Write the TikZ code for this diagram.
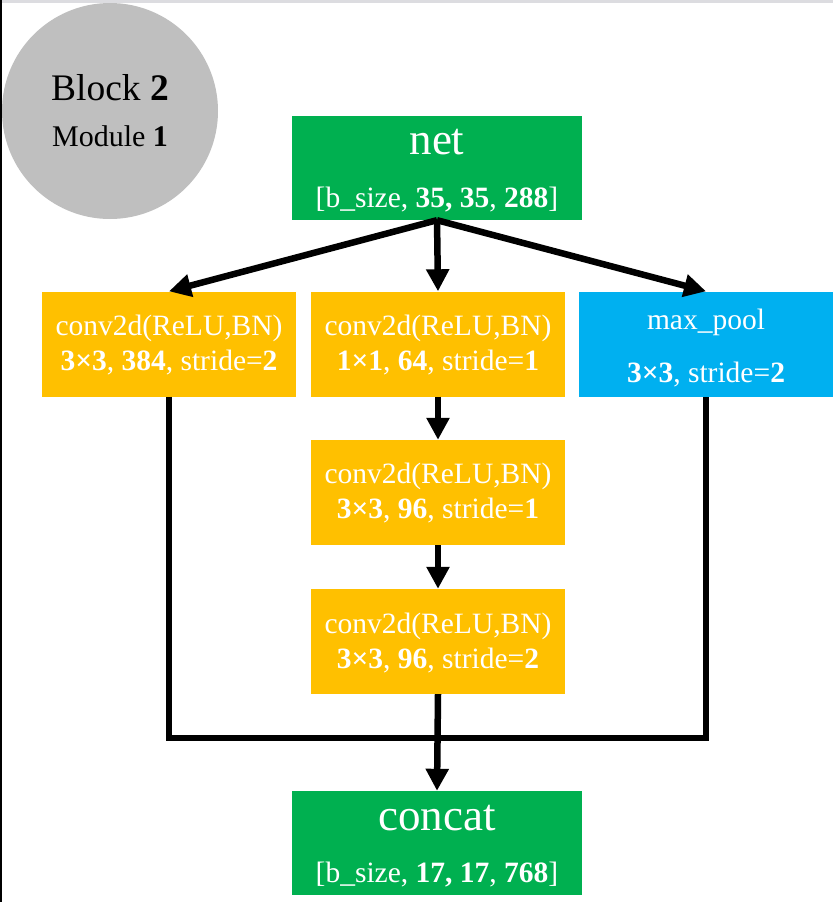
\documentclass[tikz,border=0pt]{standalone}
\usepackage{fontspec}
\setmainfont{Liberation Serif}
\usetikzlibrary{arrows.meta}
\definecolor{cgreen}{HTML}{00B050}
\definecolor{corange}{HTML}{FFC000}
\definecolor{cblue}{HTML}{00B0F0}
\definecolor{cgray}{HTML}{BFBFBF}
\definecolor{cstrip}{HTML}{DCDCE0}
\begin{document}
\begin{tikzpicture}[x=1pt,y=-1pt,
  box/.style={rectangle, inner sep=0pt, minimum width=254pt, minimum height=105pt},
  bigbox/.style={rectangle, fill=cgreen, inner sep=0pt, minimum width=290pt, minimum height=104pt},
  wtxt/.style={text=white, inner sep=0pt, font=\fontsize{29.5}{33}\selectfont},
  ttl/.style={text=white, inner sep=0pt, font=\fontsize{45}{49}\selectfont},
  conn/.style={line width=6.5pt, -{Triangle[length=22pt,width=22pt]}},
  wire/.style={line width=6.5pt, line join=miter}]
\useasboundingbox (0,0) rectangle (833,902);
\fill[cstrip] (0,0) rectangle (833,2.5);
\fill[black] (0,0) rectangle (1.5,902);
% badge
\node[circle, fill=cgray, minimum size=216pt, inner sep=0pt] (blk) at (110,111) {};
\node[inner sep=0pt, font=\fontsize{37.5}{41}\selectfont] (blkt) at (110,88) {Block \textbf{2}};
\node[inner sep=0pt, font=\fontsize{30}{34}\selectfont] (modt) at (110,136) {Module \textbf{1}};
% net
\node[bigbox] (net) at (437,168) {};
\node[ttl] (nett) at (437,142) {net};
\node[wtxt] (nets) at (437,200) {[b\_size, \textbf{35, 35}, \textbf{288}]};
% row 1
\node[box, fill=corange] (l1) at (169,344) {};
\node[wtxt] (l1a) at (169,328) {conv2d(ReLU,BN)};
\node[wtxt] (l1b) at (169,363) {\textbf{3×3}, \textbf{384}, stride=\textbf{2}};
\node[box, fill=corange] (m1) at (438,344) {};
\node[wtxt] (m1a) at (438,328) {conv2d(ReLU,BN)};
\node[wtxt] (m1b) at (438,363) {\textbf{1×1}, \textbf{64}, stride=\textbf{1}};
\node[box, fill=cblue] (mp) at (706,344) {};
\node[wtxt] (mpa) at (706,322) {max\_pool};
\node[wtxt] (mpb) at (706,375) {\textbf{3×3}, stride=\textbf{2}};
% middle column
\node[box, fill=corange] (m2) at (438,492.5) {};
\node[wtxt] (m2a) at (438,476) {conv2d(ReLU,BN)};
\node[wtxt] (m2b) at (438,511) {\textbf{3×3}, \textbf{96}, stride=\textbf{1}};
\node[box, fill=corange] (m3) at (438,641.5) {};
\node[wtxt] (m3a) at (438,626) {conv2d(ReLU,BN)};
\node[wtxt] (m3b) at (438,661) {\textbf{3×3}, \textbf{96}, stride=\textbf{2}};
% concat
\node[bigbox] (cc) at (437,843) {};
\node[ttl] (cct) at (437,818) {concat};
\node[wtxt] (ccs) at (437,875) {[b\_size, \textbf{17, 17}, \textbf{768}]};
% connectors
\draw[conn] (net.south) -- (l1.north);
\draw[conn] (net.south) -- (m1.north);
\draw[conn] (net.south) -- (mp.north);
\draw[conn] (m1.south) -- (m2.north);
\draw[conn] (m2.south) -- (m3.north);
\coordinate (jl) at (169,738);
\coordinate (jr) at (706,738);
\draw[wire] (l1.south) -- (jl) -- (jr) -- (mp.south);
\draw[conn] (m3.south) -- (cc.north);
\end{tikzpicture}
\end{document}
